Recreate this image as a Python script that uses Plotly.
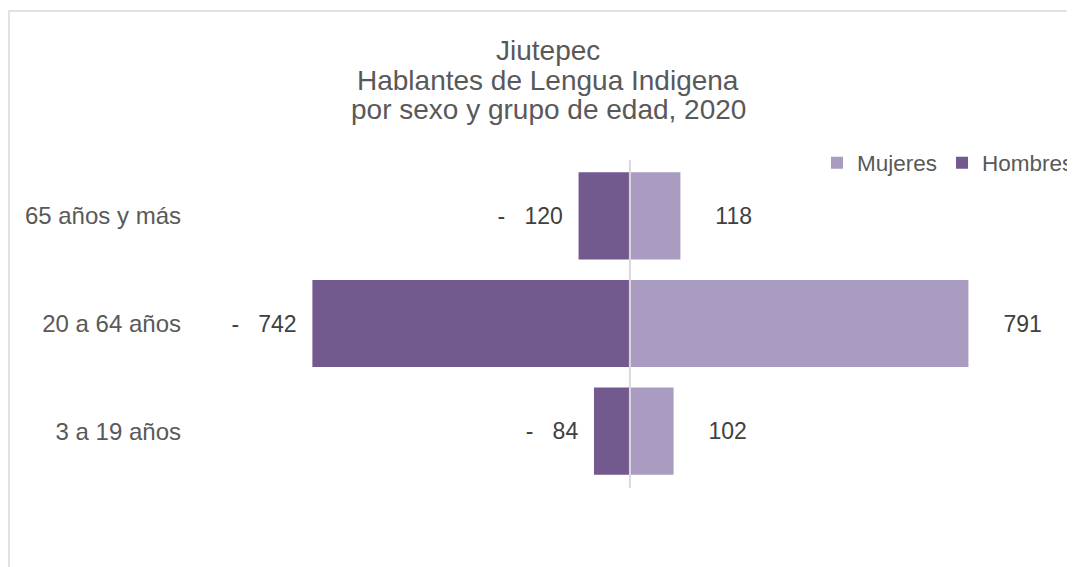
import plotly.graph_objects as go

categories = ["3 a 19 años", "20 a 64 años", "65 años y más"]
hombres = [84, 742, 120]
mujeres = [102, 791, 118]
title_lines = ["Jiutepec", "Hablantes de Lengua Indigena", "por sexo y grupo de edad, 2020"]

NB = "\u00a0"
hombres_neg = [-v for v in hombres]
hombres_text = ["-" + NB * 3 + str(v) + NB * 2 for v in hombres]
mujeres_text = [NB * 5 + str(v) for v in mujeres]

OFF = 8  # page body margin
W, H = 1067, 559
L, R, T, B = 182, 15, 154, 82
plot_w = W - L - R
plot_h = H - T - B

def px_x(px):
    return (px - OFF - L) / plot_w

def px_y(py):
    return (H - B - (py - OFF)) / plot_h

fig = go.Figure()
fig.add_trace(go.Bar(
    y=categories, x=mujeres, name="Mujeres", orientation="h",
    marker=dict(color="#AA9BC0", line=dict(width=0)),
    text=mujeres_text, textposition="outside", cliponaxis=False,
    constraintext="none",
    textfont=dict(family="Arial", size=23, color="#404040"),
    hoverinfo="skip",
))
fig.add_trace(go.Bar(
    y=categories, x=hombres_neg, name="Hombres", orientation="h",
    marker=dict(color="#72598E", line=dict(width=0)),
    text=hombres_text, textposition="outside", cliponaxis=False,
    constraintext="none",
    textfont=dict(family="Arial", size=23, color="#404040"),
    hoverinfo="skip",
))

fig.update_layout(
    width=W, height=H,
    margin=dict(l=L, r=R, t=T, b=B, autoexpand=False),
    paper_bgcolor="white", plot_bgcolor="white",
    barmode="relative", bargap=0.19,
    font=dict(family="Arial", color="#595959"),
    showlegend=True,
    legend=dict(
        orientation="h", x=px_x(817), xanchor="left",
        y=px_y(163), yanchor="middle",
        font=dict(family="Arial", size=22.5, color="#595959"),
        bgcolor="rgba(0,0,0,0)", traceorder="normal",
    ),
    xaxis=dict(range=[-1028, 1005], showgrid=False, zeroline=False,
               showticklabels=False, showline=False, fixedrange=True,
               automargin=False),
    yaxis=dict(showgrid=False, zeroline=False, showline=False,
               ticks="", ticklabelstandoff=8, automargin=False,
               tickfont=dict(family="Arial", size=24, color="#595959")),
)

# center axis line
fig.add_shape(type="line", xref="x", yref="paper", x0=0, x1=0,
              y0=px_y(488), y1=px_y(160),
              line=dict(color="#D9D9D9", width=2), layer="above")

# chart border
fig.add_shape(type="rect", xref="paper", yref="paper",
              x0=px_x(9), x1=px_x(1200), y0=px_y(700), y1=px_y(11),
              line=dict(color="#D9D9D9", width=1.5), layer="below")

centers = [50.5, 80.5, 109.5]
for line, cy in zip(title_lines, centers):
    fig.add_annotation(text=line, xref="paper", yref="paper",
                       x=px_x(548), y=px_y(cy), xanchor="center", yanchor="middle",
                       showarrow=False,
                       font=dict(family="Arial", size=28, color="#595959"))

fig.write_html("out.html")
